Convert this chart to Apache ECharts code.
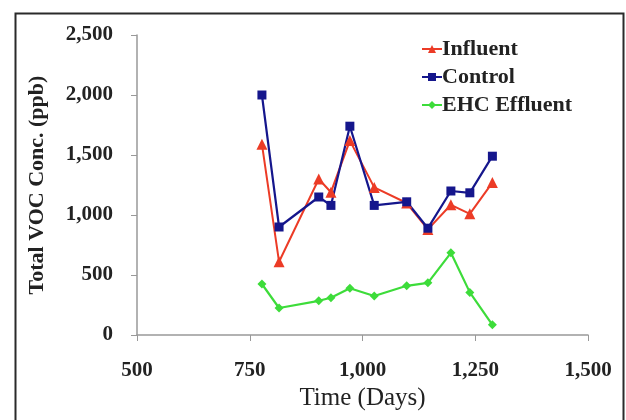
<!DOCTYPE html>
<html>
<head>
<meta charset="utf-8">
<script src="https://cdn.jsdelivr.net/npm/echarts@6/dist/echarts.min.js"></script>
<style>html,body{margin:0;padding:0;background:#fff;}#c{width:626px;height:420px;}</style>
</head>
<body>
<div id="c"></div>
<script>
var days = [777, 815, 903, 930, 972, 1026, 1098, 1145, 1196, 1238, 1288];
var influent = [1590, 610, 1300, 1190, 1620, 1230, 1100, 880, 1085, 1010, 1270];
var control = [2000, 900, 1150, 1080, 1740, 1080, 1110, 890, 1200, 1185, 1490];
var ehcEffluent = [425, 225, 285, 310, 390, 325, 410, 435, 685, 355, 85];
var seriesNames = ['Influent', 'Control', 'EHC Effluent'];
var xTitle = 'Time (Days)';
var yTitle = 'Total VOC Conc. (ppb)';

function pairs(xs, ys) { return xs.map(function (x, i) { return [x, ys[i]]; }); }
function fmt(v) { return String(v).replace(/\B(?=(\d{3})+(?!\d))/g, ','); }

var serif = '"Liberation Serif", "DejaVu Serif", serif';
var chart = echarts.init(document.getElementById('c'), null, { renderer: 'canvas' });
chart.setOption({
  animation: false,
  backgroundColor: '#ffffff',
  grid: { left: 137, right: 38, top: 35, bottom: 85, containLabel: false },
  graphic: [{
    type: 'rect', left: 13, top: 11, silent: true,
    shape: { width: 608, height: 430 },
    style: { fill: 'none', stroke: '#2a2a2a', lineWidth: 2 }
  }],
  legend: {
    orient: 'vertical', left: 416, top: 33, itemGap: 6, itemWidth: 20, itemHeight: 10,
    textStyle: { fontFamily: serif, fontSize: 22, fontWeight: 'bold', color: '#222', padding: [0, 0, 0, -5] },
    data: seriesNames
  },
  xAxis: {
    type: 'value', min: 500, max: 1500, interval: 250,
    name: xTitle, nameLocation: 'middle', nameGap: 51,
    nameTextStyle: { fontFamily: serif, fontSize: 25, color: '#222' },
    axisLine: { lineStyle: { color: '#999', width: 1.5 } },
    axisTick: { show: true, length: 6, lineStyle: { color: '#999' } },
    axisLabel: { fontFamily: serif, fontSize: 21, fontWeight: 'bold', color: '#222', margin: 25, formatter: fmt },
    splitLine: { show: false }
  },
  yAxis: {
    type: 'value', min: 0, max: 2500, interval: 500,
    name: yTitle, nameLocation: 'middle', nameGap: 89, nameRotate: 90,
    nameTextStyle: { fontFamily: serif, fontSize: 22, fontWeight: 'bold', color: '#222' },
    axisLine: { show: true, lineStyle: { color: '#999', width: 1.5 } },
    axisTick: { show: true, length: 6, lineStyle: { color: '#999' } },
    axisLabel: { fontFamily: serif, fontSize: 21, fontWeight: 'bold', color: '#222', margin: 24, formatter: fmt },
    splitLine: { show: false }
  },
  series: [
    {
      name: seriesNames[0], type: 'line', data: pairs(days, influent),
      symbol: 'triangle', symbolSize: 11,
      lineStyle: { color: '#ec3b26', width: 2 }, itemStyle: { color: '#ec3b26' }
    },
    {
      name: seriesNames[1], type: 'line', data: pairs(days, control),
      symbol: 'rect', symbolSize: 9,
      lineStyle: { color: '#15168c', width: 2.2 }, itemStyle: { color: '#15168c' }
    },
    {
      name: seriesNames[2], type: 'line', data: pairs(days, ehcEffluent),
      symbol: 'diamond', symbolSize: 9,
      lineStyle: { color: '#3ddc3a', width: 2.2 }, itemStyle: { color: '#3ddc3a' }
    }
  ]
});
</script>
</body>
</html>
